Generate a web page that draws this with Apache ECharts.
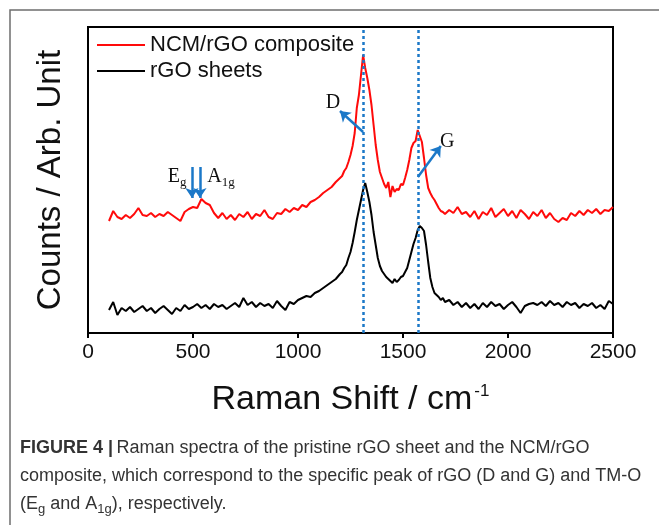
<!DOCTYPE html>
<html>
<head>
<meta charset="utf-8">
<script src="https://cdn.jsdelivr.net/npm/echarts@6/dist/echarts.min.js"></script>
<style>
 html,body{margin:0;padding:0;background:#fff;}
 #chart{width:659px;height:525px;}
</style>
</head>
<body>
<div id="chart"></div>
<script>
// Raman shift (cm-1), finer steps around the D and G bands
var shift = [
 100,120,140,160,180,200,220,240,260,280,300,320,340,360,380,400,420,440,460,480,
 500,520,540,560,580,600,620,640,660,680,700,720,740,760,780,800,820,840,860,880,
 900,920,940,960,980,1000,1020,1040,1060,1080,1100,1120,1140,1160,1180,1200,
 1210,1220,1230,1240,1250,1260,1270,1280,1290,1300,1310,1320,1330,1340,1350,1360,1370,1380,1390,1400,
 1410,1420,1430,1440,1450,1460,1470,1480,1490,1500,1510,1520,1530,1540,1550,1560,1570,1580,1590,1600,
 1610,1620,1630,1640,1650,1660,1670,1680,1690,1700,
 1720,1740,1760,1780,1800,1820,1840,1860,1880,1900,1920,1940,1960,1980,2000,2020,2040,2060,2080,2100,
 2120,2140,2160,2180,2200,2220,2240,2260,2280,2300,2320,2340,2360,2380,2400,2420,2440,2460,2480,2500
];

// NCM/rGO composite (counts, arb.)
var ncmRgo = [
 112,122,116,114,118,115,119,125,118,117,120,116,119,117,121,118,115,112,121,124,
 126,125,134,130,128,120,115,120,114,118,113,119,116,121,114,119,117,123,116,114,
 120,119,124,121,125,123,128,126,131,133,136,140,143,146,151,155,
 157,162,165,171,178,187,200,225,238,258,278,265,255,243,228,208,188,173,161,155,
 149,145,151,136,147,141,144,143,149,148,155,163,173,185,190,192,203,197,191,175,
 158,145,140,136,133,129,125,122,121,119,
 123,120,126,119,121,116,122,114,121,118,125,116,120,124,117,122,115,123,119,114,
 121,117,123,115,120,114,111,115,113,120,117,122,118,123,120,124,119,123,122,126
];

// rGO sheets (counts, arb.)
var rgo = [
 23,31,18,25,22,26,21,24,27,22,25,20,24,27,23,19,25,22,28,24,
 26,29,25,28,24,29,26,28,24,27,30,26,35,28,31,26,30,27,29,25,
 32,27,23,31,29,33,35,37,36,40,42,45,48,51,54,59,
 61,65,68,75,81,90,101,113,123,133,143,150,141,131,118,101,88,75,67,62,
 59,56,54,52,50,54,51,53,56,57,61,65,73,81,89,95,103,107,105,102,
 88,71,55,46,40,38,36,33,35,31,
 33,28,31,26,30,25,29,24,30,26,31,27,29,24,28,31,26,20,27,29,
 30,28,31,27,32,28,30,26,31,28,30,25,29,27,30,25,28,24,32,29
];

var xTicks = [0, 500, 1000, 1500, 2000, 2500];
var peakD = 1310, peakG = 1572;

var chart = echarts.init(document.getElementById('chart'));
var blue = '#1b78c8';
var serif = '"Liberation Serif", "DejaVu Serif", serif';
var sans = '"Liberation Sans", Arial, sans-serif';

function pairs(vals) {
  return shift.map(function (x, i) { return [x, vals[i]]; });
}
function arrow(from, to) {
  return [
    { coord: from, symbol: 'none', lineStyle: { type: 'solid', width: 2.5, color: blue } },
    { coord: to, symbol: 'arrow', symbolSize: 10 }
  ];
}
function tag(text, at) {
  return { coord: at, value: text };
}
var tagRich = {
  m: { fontSize: 20, fontFamily: serif, color: '#111', lineHeight: 24 },
  s: { fontSize: 13, fontFamily: serif, color: '#111', lineHeight: 14, verticalAlign: 'bottom', padding: [8, 0, 0, 0] }
};

var option = {
  animation: false,
  grid: { left: 88, right: 46, top: 27, bottom: 192, show: true, borderColor: '#000', borderWidth: 2 },
  legend: {
    left: 92, top: 29, orient: 'vertical', itemGap: 4,
    icon: 'rect', itemWidth: 48, itemHeight: 2,
    textStyle: { fontSize: 22, fontFamily: sans, color: '#111' },
    data: ['NCM/rGO composite', 'rGO sheets']
  },
  xAxis: {
    type: 'value', min: 0, max: 2500, interval: 500,
    name: 'Raman Shift / cm{sup|-1}', nameLocation: 'middle', nameGap: 50,
    nameTextStyle: {
      fontSize: 34, fontFamily: sans, color: '#111',
      rich: { sup: { fontSize: 17, fontFamily: sans, color: '#111', verticalAlign: 'top', padding: [0, 0, 16, 2] } }
    },
    axisLine: { lineStyle: { color: '#000', width: 2 } },
    axisTick: { show: true, length: 5, lineStyle: { color: '#000', width: 2 } },
    axisLabel: {
      fontSize: 21, fontFamily: sans, color: '#111', margin: 9,
      formatter: function (v) { return xTicks.indexOf(v) >= 0 ? String(v) : ''; }
    },
    splitLine: { show: false }
  },
  yAxis: {
    type: 'value', min: 0, max: 306,
    name: 'Counts / Arb. Unit', nameLocation: 'middle', nameGap: 21,
    nameTextStyle: { fontSize: 33, fontFamily: sans, color: '#111' },
    axisLine: { show: true, lineStyle: { color: '#000', width: 2 } },
    axisTick: { show: false }, axisLabel: { show: false },
    splitLine: { show: false }
  },
  series: [
    {
      name: 'NCM/rGO composite', type: 'line', data: pairs(ncmRgo),
      symbol: 'none', lineStyle: { color: '#ff0a0a', width: 2 }, itemStyle: { color: '#ff0a0a' },
      z: 3,
      markLine: {
        silent: true, symbol: ['none', 'none'], label: { show: false },
        lineStyle: { type: [3, 3], color: blue, width: 2.5 },
        data: [
          { xAxis: peakD },
          { xAxis: peakG },
          arrow([1310, 201], [1200, 222]),
          arrow([1571, 156], [1680, 187]),
          arrow([495, 166], [495, 135]),
          arrow([533, 166], [533, 135])
        ]
      },
      markPoint: {
        silent: true, symbol: 'circle', symbolSize: 0,
        label: { show: true, position: 'inside', formatter: '{m|{c}}', rich: tagRich },
        data: [
          tag('D', [1167, 230]),
          tag('G', [1710, 191]),
          { coord: [424, 156], value: 'Eg', label: { formatter: '{m|E}{s|g}' } },
          { coord: [633, 156], value: 'A1g', label: { formatter: '{m|A}{s|1g}' } }
        ]
      }
    },
    {
      name: 'rGO sheets', type: 'line', data: pairs(rgo),
      symbol: 'none', lineStyle: { color: '#000', width: 2 }, itemStyle: { color: '#000' },
      z: 3
    }
  ],
  graphic: [
    {
      type: 'polyline', silent: true,
      shape: { points: [[10, 525], [10, 10], [659, 10]] },
      style: { stroke: '#6e6e6e', lineWidth: 1.5, fill: null }
    },
    {
      type: 'text', left: 20, top: 439, silent: true,
      style: {
        text: '{b|FIGURE 4 |} {n|Raman spectra of the pristine rGO sheet and the NCM/rGO}\n' +
              '{n|composite, which correspond to the specific peak of rGO (D and G) and TM-O}\n' +
              '{n|(E}{s|g}{n| and A}{s|1g}{n|), respectively.}',
        rich: {
          b: { fontSize: 18, fontWeight: 'bold', fontFamily: sans, fill: '#333', lineHeight: 28 },
          n: { fontSize: 18, fontFamily: sans, fill: '#333', lineHeight: 28 },
          s: { fontSize: 13, fontFamily: sans, fill: '#333', lineHeight: 28, padding: [10, 0, 0, 0] }
        }
      }
    }
  ]
};

chart.setOption(option);
</script>
</body>
</html>
